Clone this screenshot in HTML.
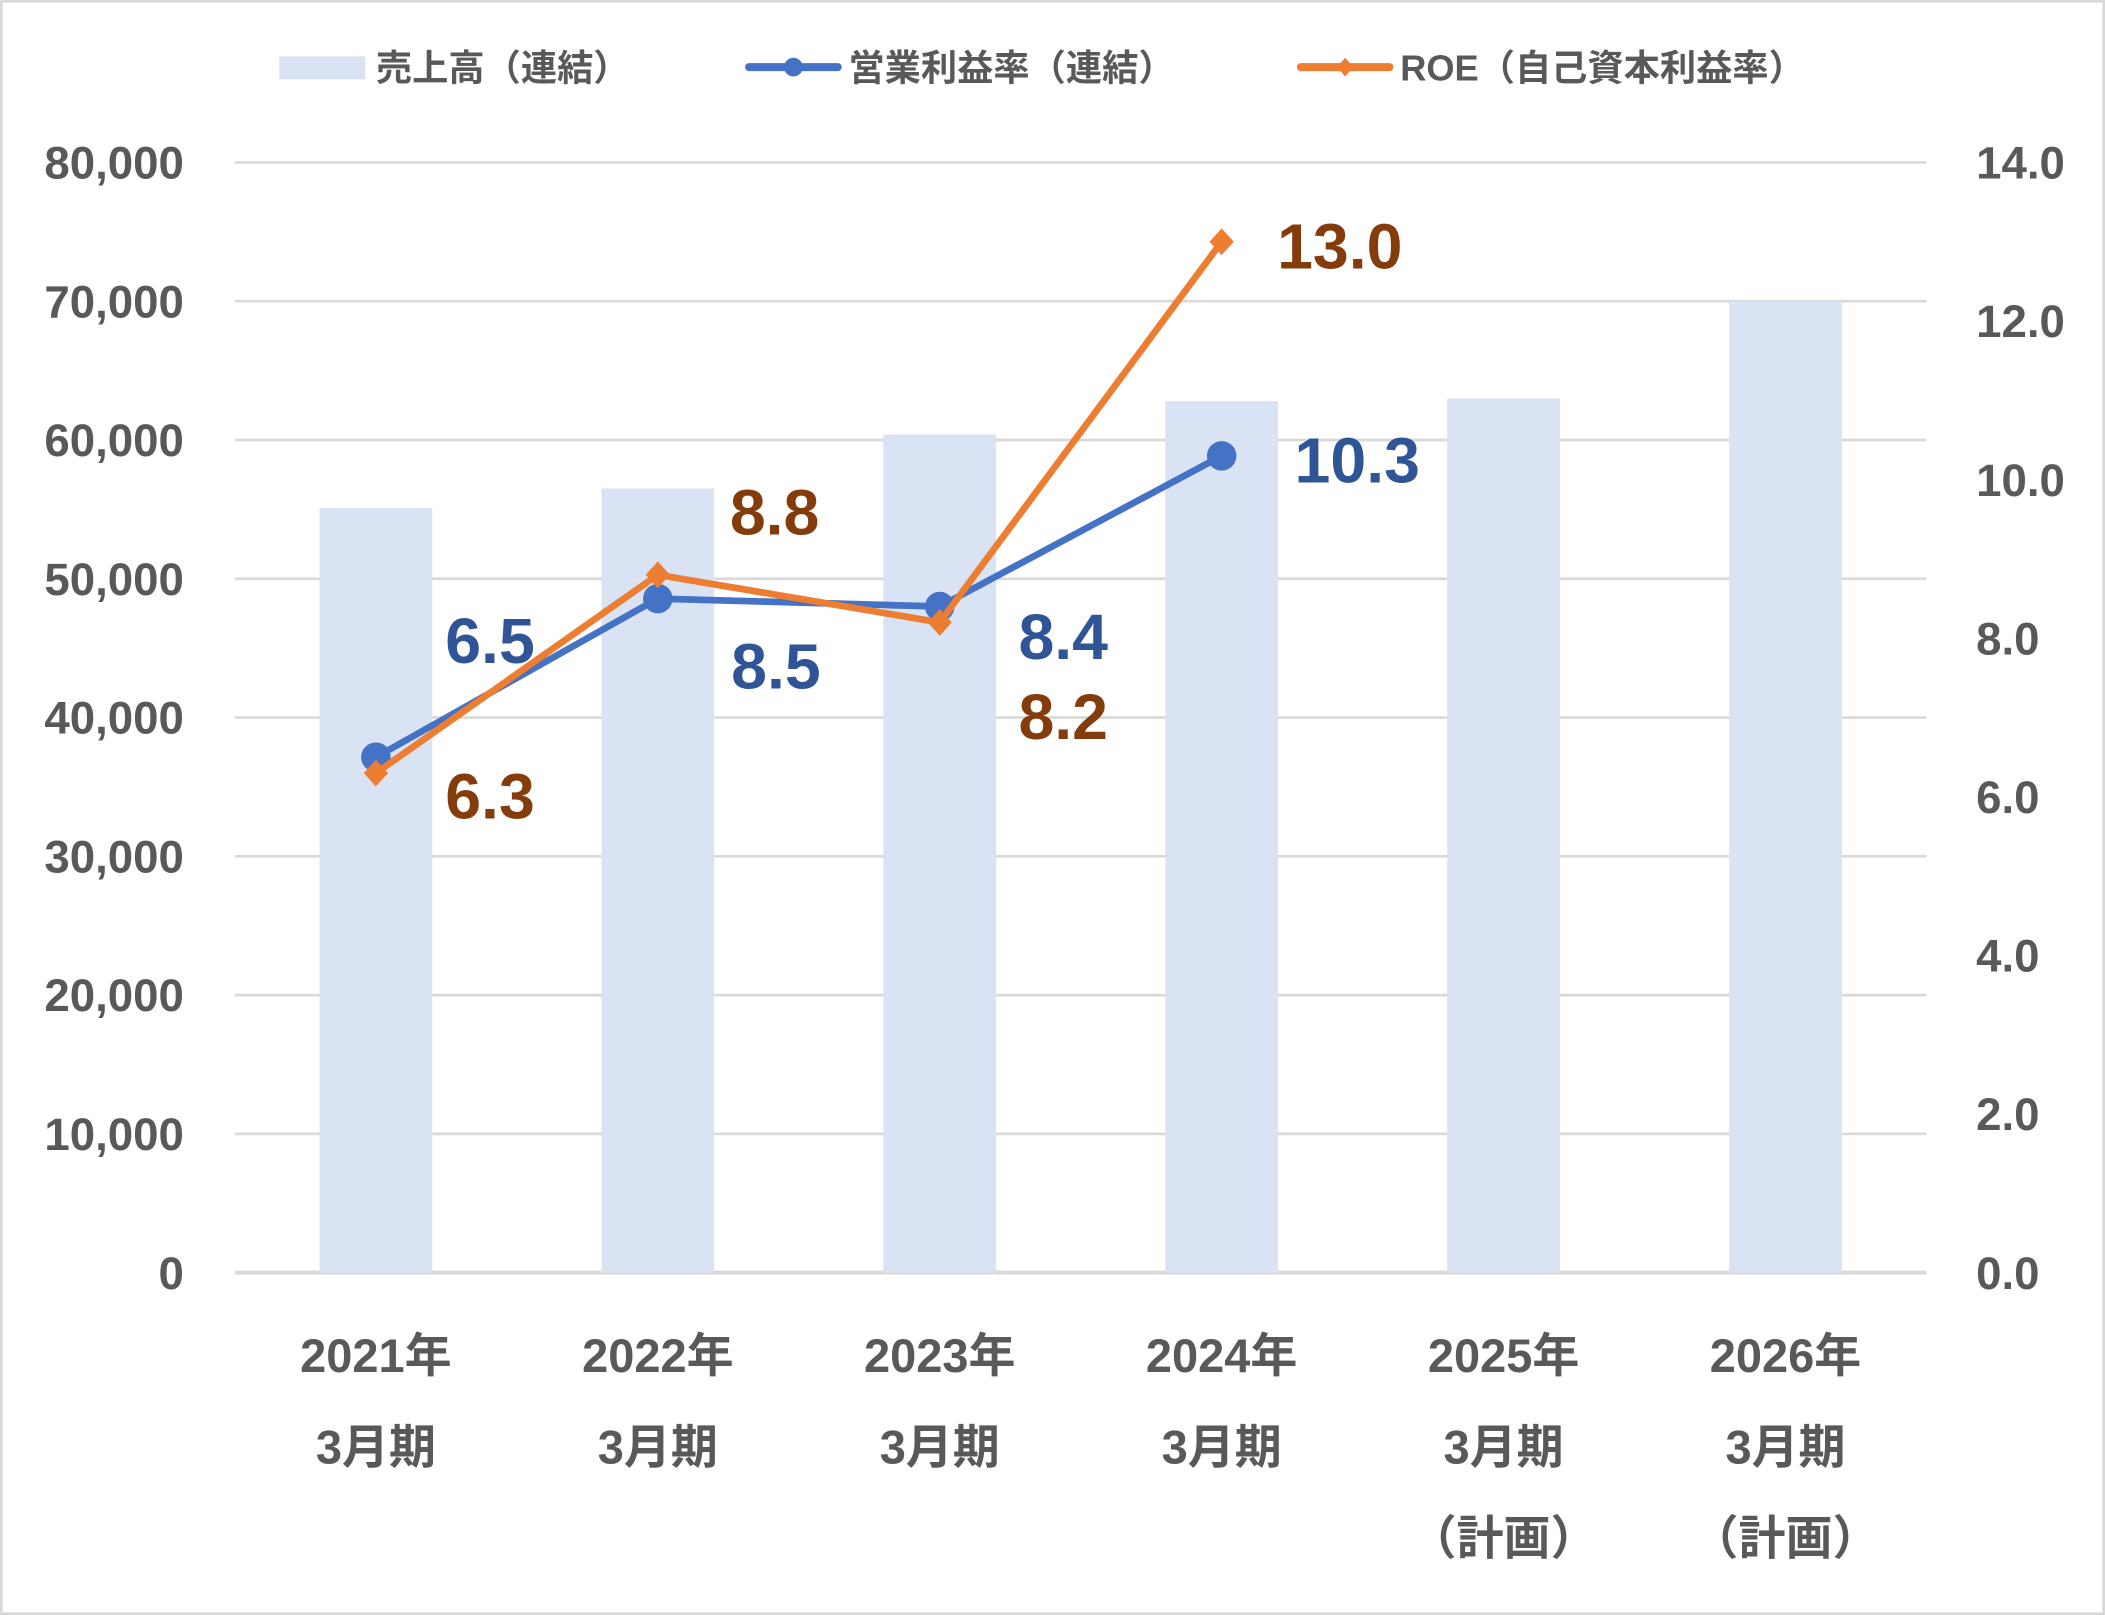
<!DOCTYPE html>
<html><head><meta charset="utf-8"><style>
html,body{margin:0;padding:0;background:#fff;}
svg{display:block;font-family:"Liberation Sans","Noto Sans CJK JP",sans-serif;font-weight:bold;}
</style></head><body>
<svg id="chart" width="2105" height="1615" viewBox="0 0 1568 1203" xmlns="http://www.w3.org/2000/svg">
<rect x="1" y="1" width="1566" height="1201" fill="#fff" stroke="#d9d9d9" stroke-width="2"/>
<g id="grid"></g><g id="bars"></g><g id="lines"></g><g id="labels"></g><g id="axes"></g>
<g fill="#595959" font-size="27">
<rect x="208" y="42" width="64" height="17" fill="#dae3f3"/>
<text x="280" y="60">売上高（連結）</text>
<line x1="558" y1="50" x2="624" y2="50" stroke="#4472c4" stroke-width="6" stroke-linecap="round"/>
<circle cx="591" cy="50" r="7" fill="#4472c4"/>
<text x="632" y="60">営業利益率（連結）</text>
<line x1="969" y1="50" x2="1035" y2="50" stroke="#ed7d31" stroke-width="6" stroke-linecap="round"/>
<path d="M1002 43 L1008 50 L1002 57 L996 50 Z" fill="#ed7d31"/>
<text x="1043" y="60">ROE（自己資本利益率）</text>
</g>
</svg>
<script>
const categories=[["2021年","3月期"],["2022年","3月期"],["2023年","3月期"],["2024年","3月期"],["2025年","3月期","（計画）"],["2026年","3月期","（計画）"]];
const sales=[55100,56500,60400,62800,63000,70000];
const opMargin=[6.5,8.5,8.4,10.3];
const roe=[6.3,8.8,8.2,13.0];
const leftTicks=[0,10000,20000,30000,40000,50000,60000,70000,80000];
const rightTicks=[0,2,4,6,8,10,12,14];
const opLabelOffsets=[[85,-87],[88,50],[92,22],[101,3]];
const roeLabelOffsets=[[85,17],[87,-47],[92,70],[88,3]];

const NS="http://www.w3.org/2000/svg";
const L=175,R=1435,Y0=948,Ytop=121;
const cw=(R-L)/categories.length;
const xc=i=>L+cw*(i+0.5);
const yL=v=>Y0-(v/80000)*(Y0-Ytop);
const yR=v=>Y0-(v/14)*(Y0-Ytop);
function mk(t,a,p){const e=document.createElementNS(NS,t);for(const k in a)e.setAttribute(k,a[k]);p.appendChild(e);return e;}
const grid=document.getElementById('grid'),bars=document.getElementById('bars'),lines=document.getElementById('lines'),labels=document.getElementById('labels'),axes=document.getElementById('axes');
leftTicks.forEach(v=>{
  const g=mk('line',{x1:L,x2:R,y1:yL(v),y2:yL(v),stroke:'#d9d9d9','stroke-width':v===0?3:2},grid);
  
  
  const t=mk('text',{x:137,y:yL(v)+12,'text-anchor':'end','font-size':34,fill:'#595959'},axes);
  t.textContent=v.toLocaleString('en-US');
  
  
});
rightTicks.forEach(v=>{
  const t=mk('text',{x:1472,y:yR(v)+12,'font-size':34,fill:'#595959'},axes);
  t.textContent=v.toFixed(1);
  
  
});
sales.forEach((v,i)=>{
  const b=mk('rect',{x:xc(i)-42,y:yL(v),width:84,height:Y0-yL(v),fill:'#dae3f3'},bars);
  
  
});
categories.forEach((c,i)=>{
  c.forEach((s,j)=>{
    const t=mk('text',{x:xc(i),y:1022+j*68,'text-anchor':'middle','font-size':35,fill:'#595959'},axes);
    t.textContent=s;
    
    
  });
});
function series(vals,color,marker,offs,lc,name){
  const pts=vals.map((v,i)=>[xc(i),yR(v)]);
  const p=mk('polyline',{points:pts.map(q=>q.join(',')).join(' '),fill:'none',stroke:color,'stroke-width':5,'stroke-linejoin':'round'},lines);
  
  
  pts.forEach((q,i)=>{
    let m;
    if(marker==='circle')m=mk('circle',{cx:q[0],cy:q[1],r:11,fill:color},lines);
    else m=mk('path',{d:`M${q[0]} ${q[1]-10} L${q[0]+9} ${q[1]} L${q[0]} ${q[1]+10} L${q[0]-9} ${q[1]} Z`,fill:color},lines);
    
    
    const t=mk('text',{x:q[0]+offs[i][0],y:q[1]+offs[i][1]+17,'text-anchor':'middle','font-size':48,fill:lc},labels);
    t.textContent=vals[i].toFixed(1);
    
    
  });
}
series(opMargin,'#4472c4','circle',opLabelOffsets,'#2f5597','op-margin');
series(roe,'#ed7d31','diamond',roeLabelOffsets,'#843c0c','roe');
</script>
</body></html>
